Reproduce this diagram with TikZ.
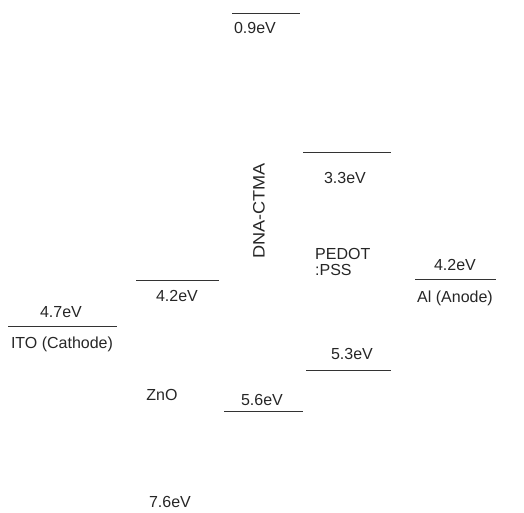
\documentclass[tikz,border=0pt]{standalone}
\usepackage{fontspec}
\setmainfont{Liberation Sans}
\begin{document}
\begin{tikzpicture}[x=1pt,y=-1pt,
  lvl/.style={draw=black!80, line width=0.9pt},
  lbl/.style={inner sep=0pt, font=\fontsize{16}{18}\selectfont, text=black!85}]
\useasboundingbox (0,0) rectangle (524,512);
% levels
\coordinate (a1) at (232,13);  \coordinate (a2) at (300,13);
\coordinate (b1) at (303,152); \coordinate (b2) at (391,152);
\coordinate (c1) at (415,279); \coordinate (c2) at (496,279);
\coordinate (d1) at (136,280); \coordinate (d2) at (219,280);
\coordinate (e1) at (8,326);   \coordinate (e2) at (117,326);
\coordinate (f1) at (306,370); \coordinate (f2) at (391,370);
\coordinate (g1) at (224,411); \coordinate (g2) at (303,411);
\draw[lvl] (a1) -- (a2);
\draw[lvl] (b1) -- (b2);
\draw[lvl] (c1) -- (c2);
\draw[lvl] (d1) -- (d2);
\draw[lvl] (e1) -- (e2);
\draw[lvl] (f1) -- (f2);
\draw[lvl] (g1) -- (g2);
% labels
\node[lbl] (t09) at (255,28) {0.9eV};
\node[lbl] (t33) at (345,178) {3.3eV};
\node[lbl, rotate=90, font=\fontsize{16.5}{18}\selectfont] (dna) at (259,211) {\scalebox{1.1}[1]{DNA-CTMA}};
\node[lbl, align=left, anchor=north west] (ped) at (315,248) {PEDOT\\[-2pt]:PSS};
\node[lbl] (t42r) at (455,265) {4.2eV};
\node[lbl] (al) at (455,298) {Al (Anode)};
\node[lbl] (t42l) at (177,296) {4.2eV};
\node[lbl] (t47) at (61,312) {4.7eV};
\node[lbl] (ito) at (62,344) {ITO (Cathode)};
\node[lbl] (t53) at (352,354) {5.3eV};
\node[lbl] (t56) at (262,400) {5.6eV};
\node[lbl] (zno) at (162,395) {ZnO};
\node[lbl] (t76) at (170,502) {7.6eV};
\end{tikzpicture}
\end{document}
